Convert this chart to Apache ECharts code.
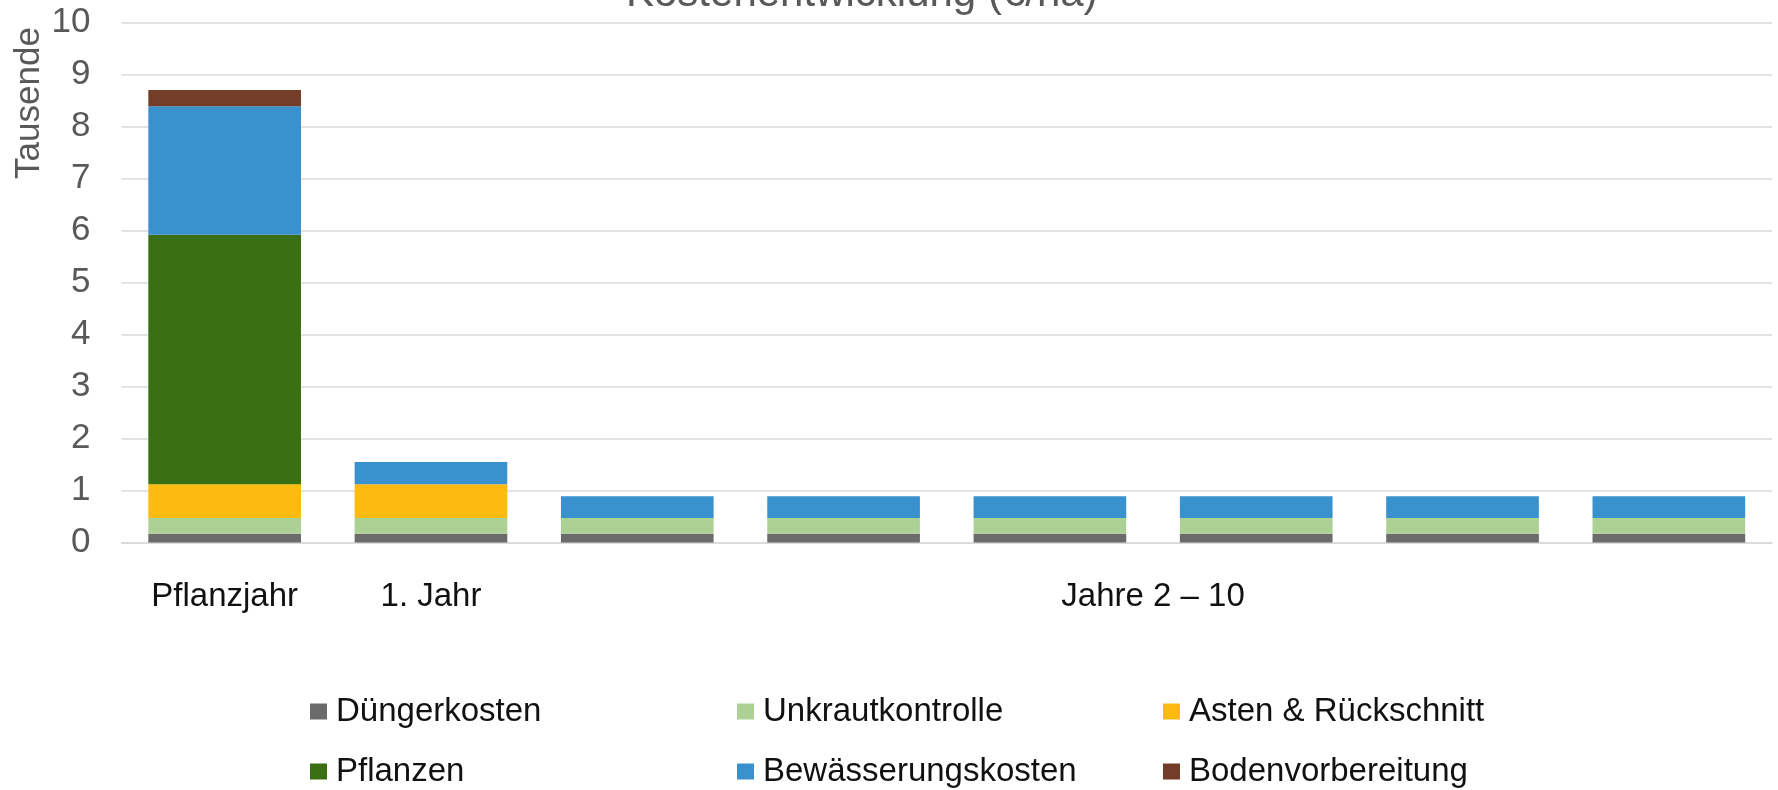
<!DOCTYPE html>
<html>
<head>
<meta charset="utf-8">
<script src="https://cdn.jsdelivr.net/npm/echarts@6/dist/echarts.min.js"></script>
<style>
   html, body { margin: 0; padding: 0; background: #fff; }
   #chart { width: 1778px; height: 790px; }
</style>
</head>
<body>
<div id="chart"></div>
<script>
// Werte in Tausend Euro je Hektar
const categories = ['Pflanzjahr', '1. Jahr', '', '', '', '', '', '']
const groupLabel = { text: 'Jahre 2 – 10', from: 2, to: 7 }

const seriesNames = ['Düngerkosten', 'Unkrautkontrolle', 'Asten & Rückschnitt', 'Pflanzen', 'Bewässerungskosten', 'Bodenvorbereitung']
const duenger = [0.17, 0.17, 0.17, 0.17, 0.17, 0.17, 0.17, 0.17]
const unkraut = [0.30, 0.30, 0.30, 0.30, 0.30, 0.30, 0.30, 0.30]
const asten = [0.65, 0.65, 0, 0, 0, 0, 0, 0]
const pflanzen = [4.80, 0, 0, 0, 0, 0, 0, 0]
const bewaesserung = [2.47, 0.43, 0.42, 0.42, 0.42, 0.42, 0.42, 0.42]
const boden = [0.31, 0, 0, 0, 0, 0, 0, 0]

const yTicks = [0, 1, 2, 3, 4, 5, 6, 7, 8, 9, 10]

const colors = ['#6b6b6b', '#add195', '#fdbb11', '#3a6f13', '#3991cd', '#743d28']
const font = 'Liberation Sans, Arial, sans-serif'

let chart = echarts.init(document.getElementById('chart'))

let values = [duenger, unkraut, asten, pflanzen, bewaesserung, boden]
let series = seriesNames.map((name, i) => ({
   name: name,
   type: 'bar',
   stack: 'kosten',
   barCategoryGap: '26%',
   itemStyle: { color: colors[i] },
   data: values[i]
}))

// Legende in 3 Spalten, 2 Zeilen
let legendPos = [
   { left: 310, top: 695 }, { left: 737, top: 695 }, { left: 1163, top: 695 },
   { left: 310, top: 755 }, { left: 737, top: 755 }, { left: 1163, top: 755 }
]
let legends = seriesNames.map((name, i) => ({
   data: [name],
   left: legendPos[i].left,
   top: legendPos[i].top,
   padding: 0,
   itemWidth: 17,
   itemHeight: 16,
   itemGap: 0,
   icon: 'rect',
   textStyle: { fontFamily: font, fontSize: 33, color: '#111', padding: [0, 0, 0, 4] },
   selectedMode: false
}))

let option = {
   animation: false,
   title: {
      text: 'Kostenentwicklung (€/ha)',
      left: 626,
      top: -27,
      padding: 0,
      textStyle: { fontFamily: font, fontSize: 42, fontWeight: 'normal', color: '#595959' }
   },
   legend: legends,
   grid: { left: 121.5, right: 6, top: 22.5, bottom: 247.5, containLabel: false },
   xAxis: [
      {
         type: 'category',
         data: categories,
         axisLine: { show: true, lineStyle: { color: '#d9d9d9', width: 1.5 } },
         axisTick: { show: false },
         axisLabel: {
            interval: 0,
            margin: 38,
            fontFamily: font,
            fontSize: 33,
            color: '#111'
         }
      },
      {
         type: 'value',
         position: 'bottom',
         min: 0,
         max: categories.length,
         interval: (groupLabel.from + groupLabel.to + 1) / 2,
         axisLine: { show: false },
         axisTick: { show: false },
         splitLine: { show: false },
         axisLabel: {
            margin: 38,
            fontFamily: font,
            fontSize: 33,
            color: '#111',
            showMinLabel: false,
            showMaxLabel: false,
            formatter: v => v === (groupLabel.from + groupLabel.to + 1) / 2 ? groupLabel.text : ''
         }
      }
   ],
   yAxis: {
      type: 'value',
      min: yTicks[0],
      max: yTicks[yTicks.length - 1],
      interval: 1,
      axisLine: { show: false },
      axisTick: { show: false },
      splitLine: { lineStyle: { color: '#d9d9d9', width: 1.5 } },
      axisLabel: {
         margin: 31,
         fontFamily: font,
         fontSize: 35,
         color: '#595959'
      }
   },
   graphic: [
      {
         type: 'text',
         x: 29,
         y: 103,
         rotation: Math.PI / 2,
         style: {
            text: 'Tausende',
            fontFamily: font,
            fontSize: 35,
            fill: '#595959',
            align: 'center',
            verticalAlign: 'middle'
         }
      }
   ],
   series: series
}

chart.setOption(option)
</script>
</body>
</html>
